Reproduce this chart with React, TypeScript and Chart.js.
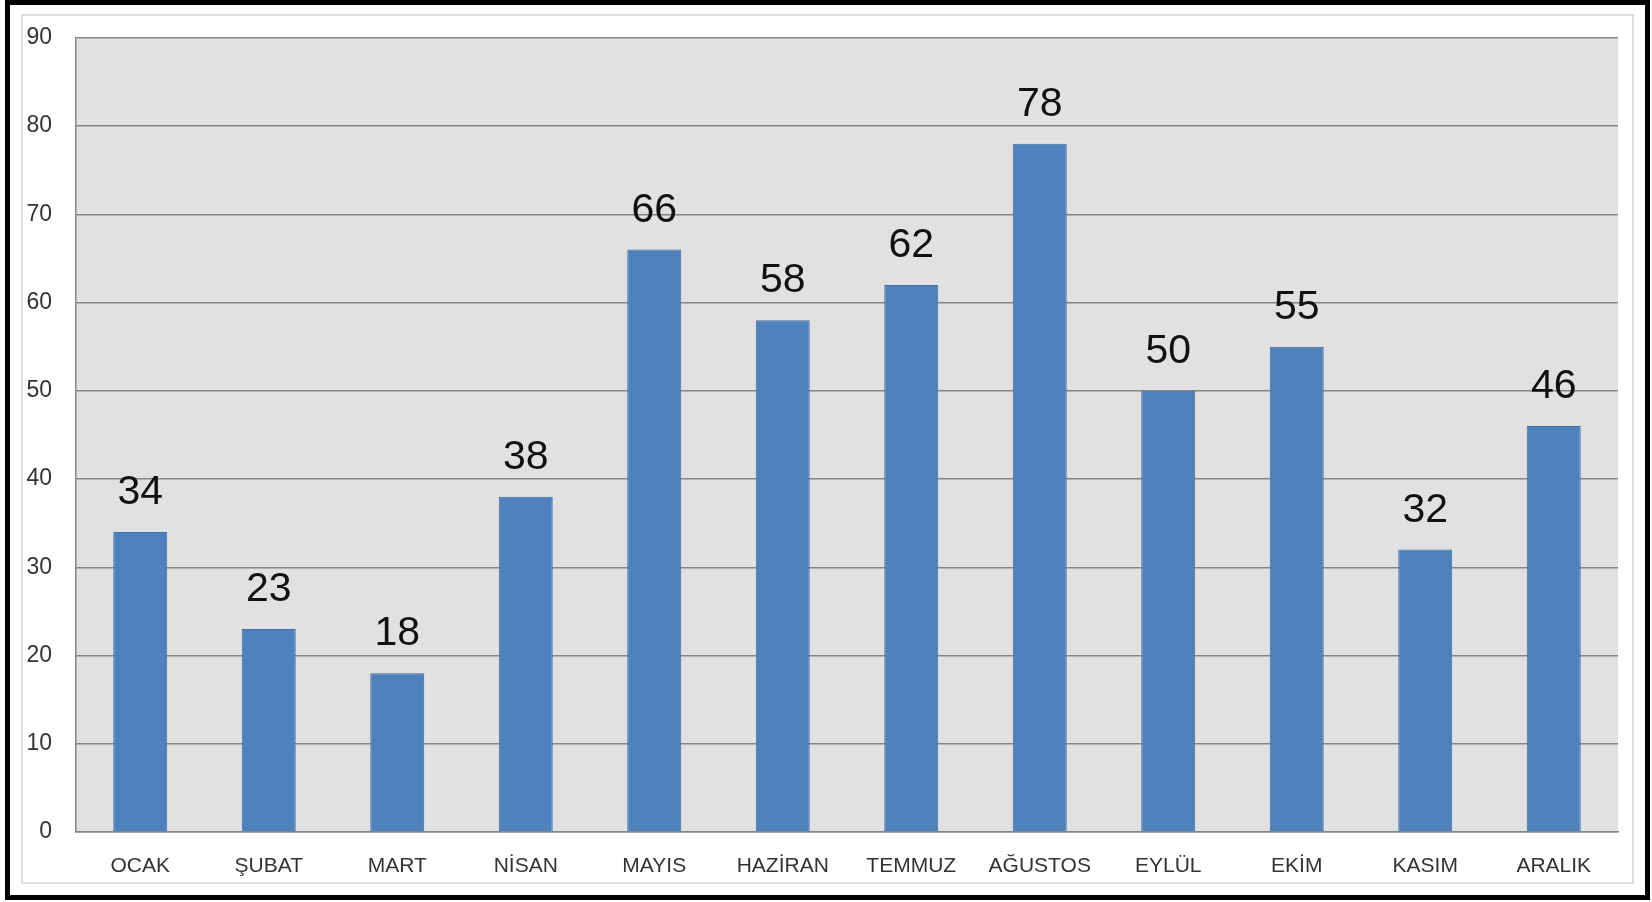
import React, { useEffect, useRef } from "react";
import { Chart, registerables } from "chart.js";

Chart.register(...registerables);

const categories = ["OCAK", "ŞUBAT", "MART", "NİSAN", "MAYIS", "HAZİRAN", "TEMMUZ", "AĞUSTOS", "EYLÜL", "EKİM", "KASIM", "ARALIK"];
const values = [34, 23, 18, 38, 66, 58, 62, 78, 50, 55, 32, 46];
const yMin = 0;
const yMax = 90;
const yStep = 10;

const FONT = "'Liberation Sans', Arial, sans-serif";

const framePlugin = {
  id: "frame",
  beforeDraw(chart: any) {
    const ctx = chart.ctx;
    const { width, height } = chart;
    ctx.save();
    ctx.fillStyle = "#ffffff";
    ctx.fillRect(0, 0, width, height);
    // inner thin frame
    ctx.strokeStyle = "#d4d4d4";
    ctx.lineWidth = 1.5;
    ctx.strokeRect(22, 15, 1611, 868);
    // outer black frame
    ctx.strokeStyle = "#000000";
    ctx.lineWidth = 5;
    ctx.strokeRect(7.5, 2.5, 1640, 895);
    // plot background
    const a = chart.chartArea;
    ctx.fillStyle = "#e1e1e1";
    ctx.fillRect(a.left, a.top, a.right - a.left, a.bottom - a.top);
    ctx.restore();
  },
};

const labelPlugin = {
  id: "barLabels",
  afterDatasetsDraw(chart: any) {
    const ctx = chart.ctx;
    const meta = chart.getDatasetMeta(0);
    ctx.save();
    ctx.fillStyle = "#111111";
    ctx.font = `41px ${FONT}`;
    ctx.textAlign = "center";
    ctx.textBaseline = "alphabetic";
    meta.data.forEach((bar: any, i: number) => {
      ctx.fillText(String(values[i]), bar.x, bar.y - 28);
    });
    ctx.restore();
  },
};

export default function App() {
  const ref = useRef<HTMLCanvasElement | null>(null);
  useEffect(() => {
    if (!ref.current) return;
    const chart = new Chart(ref.current, {
      type: "bar",
      data: {
        labels: categories,
        datasets: [
          {
            data: values,
            backgroundColor: "#4f81bd",
            borderColor: "#3f6fa8",
            borderWidth: 1,
            categoryPercentage: 1,
            barPercentage: 0.42,
          },
        ],
      },
      options: {
        responsive: false,
        animation: false,
        layout: { padding: { top: 32, right: 34, bottom: 0, left: 0 } },
        plugins: { legend: { display: false }, tooltip: { enabled: false } },
        scales: {
          x: {
            grid: { display: false, drawTicks: false },
            border: { display: true, color: "#868686", width: 1.5 },
            ticks: { font: { family: FONT, size: 21 }, color: "#333333", padding: 22, maxRotation: 0 },
            afterFit: (s: any) => {
              s.height = 70;
            },
          },
          y: {
            min: yMin,
            max: yMax,
            ticks: { stepSize: yStep, font: { family: FONT, size: 23 }, color: "#333333", padding: 24 },
            grid: { color: "#868686", lineWidth: 1.5, drawTicks: false },
            border: { display: true, color: "#868686", width: 1.5 },
            afterFit: (s: any) => {
              s.width = 76;
            },
          },
        },
      },
      plugins: [framePlugin, labelPlugin],
    });
    return () => chart.destroy();
  }, []);
  return (
    <div style={{ position: "fixed", left: 0, top: 0, width: 1652, height: 902, background: "#fff" }}>
      <canvas ref={ref} width={1652} height={902} style={{ display: "block", width: 1652, height: 902 }} />
    </div>
  );
}
